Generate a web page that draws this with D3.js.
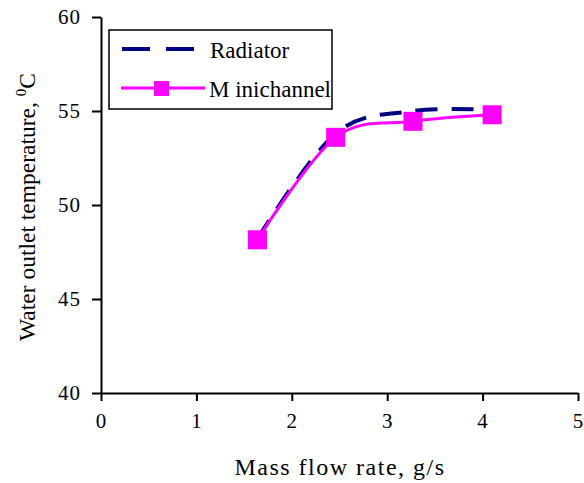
<!DOCTYPE html>
<html>
<head>
<meta charset="utf-8">
<script src="https://cdn.jsdelivr.net/npm/d3@7"></script>
<style>
  body { margin: 0; background: #fff; }
</style>
</head>
<body>
<div id="chart"></div>
<script>
// DATA
const flowRate = [1.64, 2.46, 3.27, 4.10];
const radiator = [48.2, 53.8, 55.0, 55.05];
const minichannel = [48.15, 53.6, 54.45, 54.8];
const xTicks = [0, 1, 2, 3, 4, 5];
const yTicks = [40, 45, 50, 55, 60];

const COLORS = { radiator: "#000080", minichannel: "#ff00ff" };
const FONT = "Liberation Serif";

const width = 584, height = 483;
const margin = { left: 101, right: 6, top: 17, bottom: 90 };

const svg = d3.select("#chart").append("svg")
    .attr("width", width)
    .attr("height", height);

const x = d3.scaleLinear().domain([0, 5]).range([margin.left, width - margin.right]);
const y = d3.scaleLinear().domain([40, 60]).range([height - margin.bottom, margin.top]);

//AXES
const xAxis = svg.append("g")
    .attr("transform", `translate(0,${y(40)})`)
    .call(d3.axisBottom(x).tickValues(xTicks).tickFormat(d3.format("d"))
        .tickSize(8).tickPadding(12).tickSizeOuter(0));
const yAxis = svg.append("g")
    .attr("transform", `translate(${x(0)},0)`)
    .call(d3.axisLeft(y).tickValues(yTicks).tickFormat(d3.format("d"))
        .tickSize(9).tickPadding(11).tickSizeOuter(0));

[xAxis, yAxis].forEach(g => {
    g.attr("font-family", FONT);
    g.select(".domain").attr("stroke", "#000").attr("stroke-width", 2);
    g.selectAll(".tick line").attr("stroke", "#000").attr("stroke-width", 2);
    g.selectAll(".tick text")
        .style("font-family", FONT)
        .attr("font-size", 21)
        .attr("letter-spacing", 1)
        .attr("fill", "#000");
});

//TITLES
svg.append("text")
    .attr("x", 340)
    .attr("y", 475)
    .attr("text-anchor", "middle")
    .style("font-family", FONT)
    .attr("font-size", 24)
    .attr("letter-spacing", 1.5)
    .text("Mass flow rate, g/s");

const yt = svg.append("text")
    .attr("transform", "translate(35,207) rotate(-90)")
    .attr("text-anchor", "middle")
    .style("font-family", FONT)
    .attr("font-size", 23.5);
yt.append("tspan").text("Water outlet temperature, ");
yt.append("tspan").attr("font-size", 15).attr("dy", -9).text("0");
yt.append("tspan").attr("dy", 9).text("C");

//LINES
const pts = vals => flowRate.map((d, i) => [d, vals[i]]);
const line = d3.line()
    .x(d => x(d[0]))
    .y(d => y(d[1]))
    .curve(d3.curveCatmullRom.alpha(0));

svg.append("path")
    .attr("d", line(pts(radiator)))
    .attr("fill", "none")
    .attr("stroke", COLORS.radiator)
    .attr("stroke-width", 4)
    .attr("stroke-dasharray", "22,14");

svg.append("path")
    .attr("d", line(pts(minichannel)))
    .attr("fill", "none")
    .attr("stroke", COLORS.minichannel)
    .attr("stroke-width", 3);

const ms = 19;
svg.append("g")
    .selectAll("rect")
    .data(pts(minichannel))
    .enter()
    .append("rect")
    .attr("x", d => x(d[0]) - ms / 2)
    .attr("y", d => y(d[1]) - ms / 2)
    .attr("width", ms)
    .attr("height", ms)
    .attr("fill", COLORS.minichannel);

//LEGEND
const lg = svg.append("g").style("font-family", FONT);
lg.append("rect")
    .attr("x", 109).attr("y", 30)
    .attr("width", 223).attr("height", 79)
    .attr("fill", "#fff")
    .attr("stroke", "#000")
    .attr("stroke-width", 1.5);
lg.append("line")
    .attr("x1", 122).attr("x2", 194).attr("y1", 49).attr("y2", 49)
    .attr("stroke", COLORS.radiator).attr("stroke-width", 4)
    .attr("stroke-dasharray", "28,16");
lg.append("text").attr("x", 210).attr("y", 58).attr("font-size", 23)
    .style("font-family", FONT).text("Radiator");
lg.append("line")
    .attr("x1", 121).attr("x2", 205).attr("y1", 88).attr("y2", 88)
    .attr("stroke", COLORS.minichannel).attr("stroke-width", 3);
lg.append("rect")
    .attr("x", 154).attr("y", 81).attr("width", 15).attr("height", 15)
    .attr("fill", COLORS.minichannel);
lg.append("text").attr("x", 209).attr("y", 97).attr("font-size", 23)
    .style("font-family", FONT).text("M inichannel");
</script>
</body>
</html>
